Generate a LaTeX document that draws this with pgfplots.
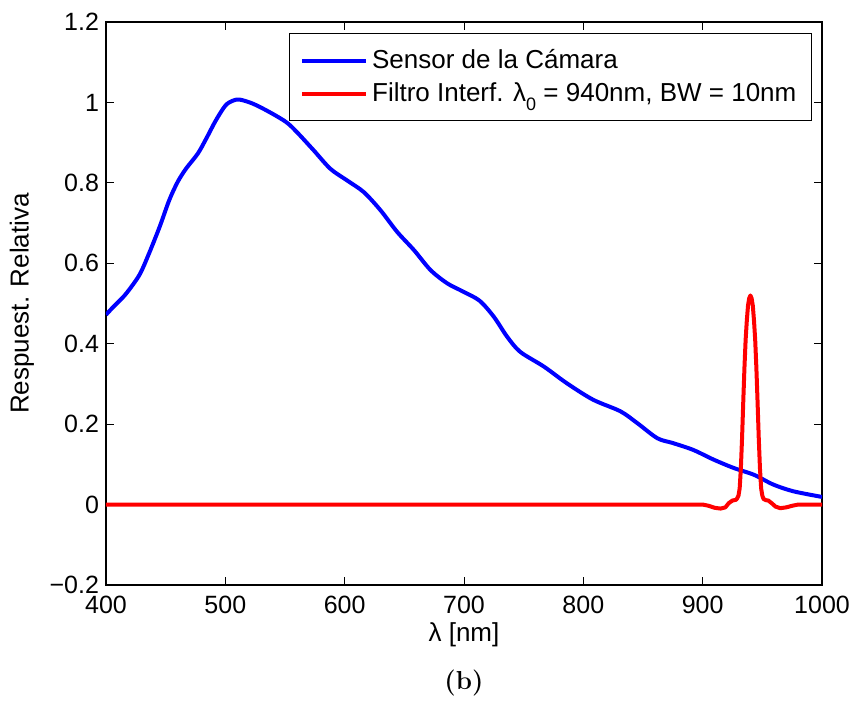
\documentclass[border=0pt]{standalone}
\usepackage{fontspec}
\usepackage{pgfplots}
\pgfplotsset{compat=1.18}
\newfontfamily\arial{Liberation Sans}
\newcommand\af{\arial\fontsize{12.5}{14}\selectfont}
\newcommand\lf{\arial\fontsize{13}{15}\selectfont}

\pgfplotstableread{
x y
400 0.472
405 0.488
410 0.503
417 0.525
428 0.571
436 0.624
445 0.691
453 0.757
460 0.802
467 0.835
477 0.873
484 0.910
492 0.955
500 0.992
506 1.004
512 1.007
523 0.997
537 0.976
551 0.951
560 0.926
574 0.881
588 0.835
602 0.806
616 0.777
630 0.732
644 0.678
658 0.633
672 0.583
686 0.550
699 0.530
713 0.507
725 0.467
736 0.418
747 0.380
767 0.343
786 0.302
808 0.261
831 0.232
845 0.203
862 0.165
875 0.153
892 0.136
909 0.112
926 0.091
943 0.074
959 0.050
976 0.033
1000 0.019
}\sensor

\pgfplotstableread{
x y
400 0
890 0
900 0
905 -0.003
910 -0.008
915 -0.010
919 -0.007
922 0.004
925 0.010
928 0.012
929 0.016
930 0.022
931 0.040
932 0.090
933 0.165
934 0.255
935 0.340
936 0.410
937 0.458
938 0.495
939 0.513
940 0.520
941 0.513
942 0.495
943 0.458
944 0.410
945 0.340
946 0.255
947 0.165
948 0.090
949 0.040
950 0.022
951 0.014
953 0.011
955 0.010
958 0.003
961 -0.005
965 -0.009
970 -0.007
975 -0.003
980 0
1000 0
}\filtro

\begin{document}
\begin{tikzpicture}
\path[use as bounding box] (-53pt,-59.5pt) rectangle (374pt,292.5pt);
\begin{axis}[
  scale only axis, width=358pt, height=281.5pt,
  xmin=400, xmax=1000, ymin=-0.2, ymax=1.2,
  xtick={400,500,600,700,800,900,1000},
  xticklabels={400,500,600,700,800,900,1000},
  ytick={-0.2,0,0.2,0.4,0.6,0.8,1,1.2},
  yticklabels={−0.2,0,0.2,0.4,0.6,0.8,1,1.2},
  tick align=inside, major tick length=4pt,
  tick style={black, line width=0.4pt},
  axis line style={line width=0.75pt},
  ticklabel style={font=\af},
  xticklabel style={yshift=-2pt},
  label style={font=\lf},
  xlabel={λ [nm]}, ylabel={Respuest. Relativa},
  x label style={at={(axis description cs:0.5,-0.0888)}, anchor=center},
  y label style={at={(axis description cs:-0.1173,0.5)}, anchor=center},
  legend style={at={(axis description cs:0.986,0.98)}, anchor=north east,
    draw=black, line width=0.6pt, font=\lf, inner xsep=5.5pt, inner ysep=6pt,
    row sep=1.5pt, cells={anchor=west}},
  legend image code/.code={\draw[#1] (0pt,0pt) -- (32pt,0pt);},
]
\addplot[blue, line width=2pt, smooth, tension=0.5] table {\sensor};
\addlegendentry{Sensor de la Cámara}
\addplot[red, line width=2pt, line join=round] table {\filtro};
\addlegendentry{Filtro Interf. λ\raisebox{-0.6ex}{\arial\fontsize{9}{10}\selectfont 0} = 940nm, BW = 10nm}
\end{axis}
\node[font=\fontsize{13}{15}\selectfont\bfseries] at (179pt,-49pt) {(b)};
\end{tikzpicture}
\end{document}
